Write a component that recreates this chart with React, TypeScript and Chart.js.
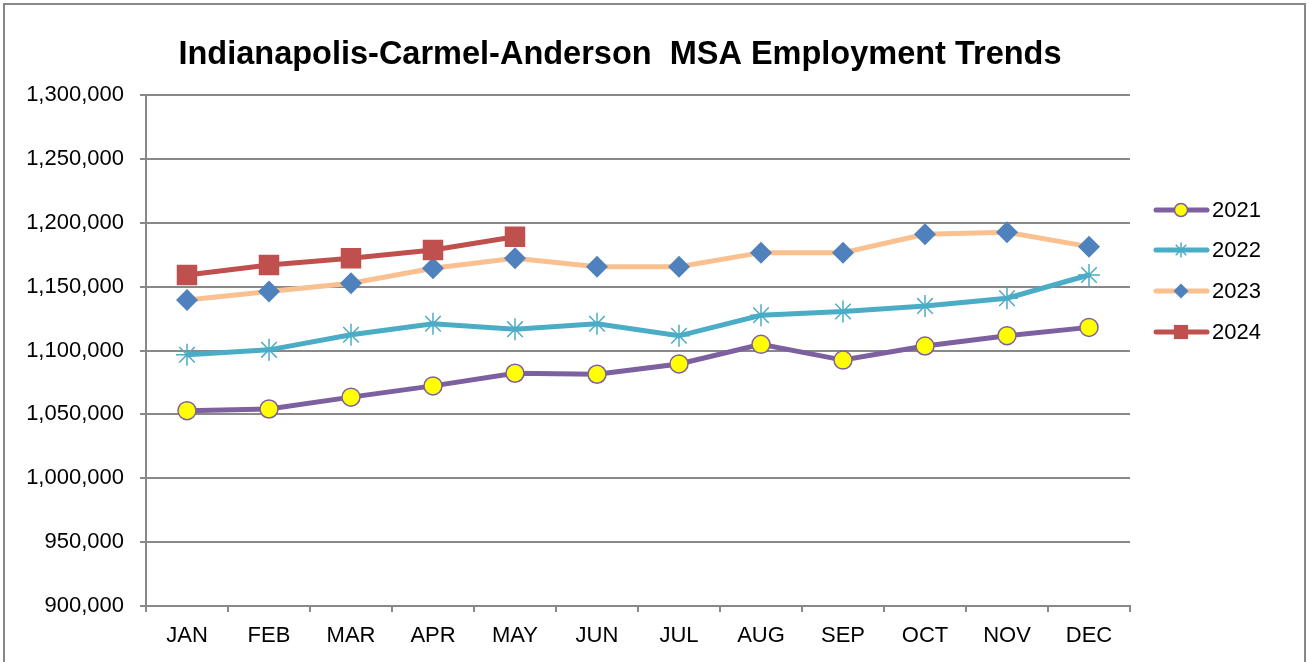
import React, { useEffect, useRef } from "react";
import { Chart, registerables } from "chart.js";

Chart.register(...registerables);

const TITLE = "Indianapolis-Carmel-Anderson  MSA Employment Trends";
const MONTHS = ["JAN", "FEB", "MAR", "APR", "MAY", "JUN", "JUL", "AUG", "SEP", "OCT", "NOV", "DEC"];
const SERIES_NAMES = ["2021", "2022", "2023", "2024"];
const V2021 = [1052900, 1054200, 1063500, 1072300, 1082200, 1081400, 1089500, 1104800, 1092500, 1103500, 1111600, 1118100];
const V2022 = [1096700, 1100500, 1112300, 1120900, 1116700, 1120900, 1111500, 1127600, 1130500, 1134900, 1140900, 1159100];
const V2023 = [1139600, 1146100, 1152600, 1164400, 1172200, 1165600, 1165600, 1176600, 1176600, 1191000, 1192500, 1181300];
const V2024 = [1159100, 1166900, 1172200, 1178700, 1189100];
const Y_MIN = 900000;
const Y_MAX = 1300000;
const Y_STEP = 50000;

const FONT = "'Liberation Sans', Arial, sans-serif";

export default function App() {
  const ref = useRef<HTMLCanvasElement | null>(null);

  useEffect(() => {
    document.body.style.margin = "0";
    const canvas = ref.current!;

    function drawPt(ctx: CanvasRenderingContext2D, style: string, r: number, x: number, y: number) {
      ctx.beginPath();
      if (style === "circle") {
        ctx.arc(x, y, r, 0, Math.PI * 2);
        ctx.fill();
        ctx.stroke();
      } else if (style === "rect") {
        const s = Math.SQRT1_2 * r;
        ctx.rect(x - s, y - s, 2 * s, 2 * s);
        ctx.fill();
      } else if (style === "rectRot") {
        ctx.moveTo(x - r, y);
        ctx.lineTo(x, y - r);
        ctx.lineTo(x + r, y);
        ctx.lineTo(x, y + r);
        ctx.closePath();
        ctx.fill();
      } else if (style === "star") {
        for (let k = 0; k < 4; k++) {
          const a = (k * Math.PI) / 4;
          ctx.moveTo(x - Math.cos(a) * r, y - Math.sin(a) * r);
          ctx.lineTo(x + Math.cos(a) * r, y + Math.sin(a) * r);
        }
        ctx.stroke();
      }
    }

    const decor = {
      id: "decor",
      afterDraw(chart: any) {
        const ctx = chart.ctx;
        ctx.save();
        // outer border
        ctx.strokeStyle = "#888888";
        ctx.lineWidth = 2;
        ctx.beginPath();
        ctx.moveTo(4, 700);
        ctx.lineTo(4, 4);
        ctx.lineTo(1305, 4);
        ctx.lineTo(1305, 700);
        ctx.stroke();
        // title
        ctx.fillStyle = "#000";
        ctx.font = `bold 32.5px ${FONT}`;
        ctx.textAlign = "center";
        ctx.textBaseline = "middle";
        ctx.fillText(TITLE, 620, 55);
        // legend
        const ys = [210, 250, 291, 332];
        chart.data.datasets.forEach((ds: any, i: number) => {
          const y = ys[i];
          ctx.strokeStyle = ds.borderColor;
          ctx.lineWidth = 5;
          ctx.lineCap = "round";
          ctx.beginPath();
          ctx.moveTo(1156, y);
          ctx.lineTo(1207, y);
          ctx.stroke();
          ctx.lineCap = "butt";
          ctx.fillStyle = ds.pointBackgroundColor;
          ctx.strokeStyle = ds.pointBorderColor;
          ctx.lineWidth = ds.pointBorderWidth || 1;
          const r = ds.pointStyle === "rect" ? 10 : ds.pointStyle === "circle" ? 6.5 : 7.5;
          drawPt(ctx, ds.pointStyle, r, 1181, y);
          ctx.fillStyle = "#000";
          ctx.font = `22px ${FONT}`;
          ctx.textAlign = "left";
          ctx.textBaseline = "middle";
          ctx.fillText(ds.label, 1212, y + 1);
        });
        ctx.restore();
      },
    };

    const chart = new Chart(canvas, {
      type: "line",
      data: {
        labels: MONTHS,
        datasets: [
          {
            label: SERIES_NAMES[0],
            data: V2021,
            borderColor: "#7D60A0",
            borderWidth: 5,
            pointStyle: "circle",
            pointRadius: 9,
            pointBackgroundColor: "#FFFF00",
            pointBorderColor: "#7D60A0",
            pointBorderWidth: 1.5,
            order: 4,
          },
          {
            label: SERIES_NAMES[1],
            data: V2022,
            borderColor: "#4BACC6",
            borderWidth: 5,
            pointStyle: "star",
            pointRadius: 11,
            pointBackgroundColor: "#4BACC6",
            pointBorderColor: "#4BACC6",
            pointBorderWidth: 1.5,
            order: 3,
          },
          {
            label: SERIES_NAMES[2],
            data: V2023,
            borderColor: "#FAC090",
            borderWidth: 5,
            pointStyle: "rectRot",
            pointRadius: 11,
            pointBackgroundColor: "#4F81BD",
            pointBorderColor: "#4F81BD",
            pointBorderWidth: 0,
            order: 2,
          },
          {
            label: SERIES_NAMES[3],
            data: V2024,
            borderColor: "#C0504D",
            borderWidth: 5,
            pointStyle: "rect",
            pointRadius: 14.5,
            pointBackgroundColor: "#C0504D",
            pointBorderColor: "#C0504D",
            pointBorderWidth: 0,
            order: 1,
          },
        ],
      },
      options: {
        animation: false,
        responsive: false,
        layout: { padding: { top: 95, right: 177, left: 0, bottom: 0 } },
        plugins: { legend: { display: false }, title: { display: false }, tooltip: { enabled: false } },
        elements: { line: { tension: 0 } },
        scales: {
          x: {
            offset: true,
            grid: {
              offset: true,
              drawOnChartArea: false,
              drawTicks: true,
              tickLength: 6,
              color: "#888888",
              lineWidth: 2,
            },
            border: { color: "#888888", width: 2 },
            ticks: { color: "#000", font: { family: FONT, size: 22 }, padding: 11, maxRotation: 0, autoSkip: false },
            afterFit(s: any) {
              s.height = 56;
            },
          },
          y: {
            min: Y_MIN,
            max: Y_MAX,
            grid: { color: "#888888", lineWidth: 2, tickLength: 6 },
            border: { color: "#888888", width: 2 },
            ticks: {
              stepSize: Y_STEP,
              color: "#000",
              font: { family: FONT, size: 22 },
              padding: 16,
              callback: (v: any) => Number(v).toLocaleString("en-US"),
            },
            afterFit(s: any) {
              s.width = 146;
            },
          },
        },
      },
      plugins: [decor],
    } as any);
    return () => chart.destroy();
  }, []);

  return (
    <div style={{ position: "absolute", left: 0, top: 0, width: 1307, height: 662, background: "#fff" }}>
      <canvas ref={ref} width={1307} height={662} style={{ display: "block" }} />
    </div>
  );
}
